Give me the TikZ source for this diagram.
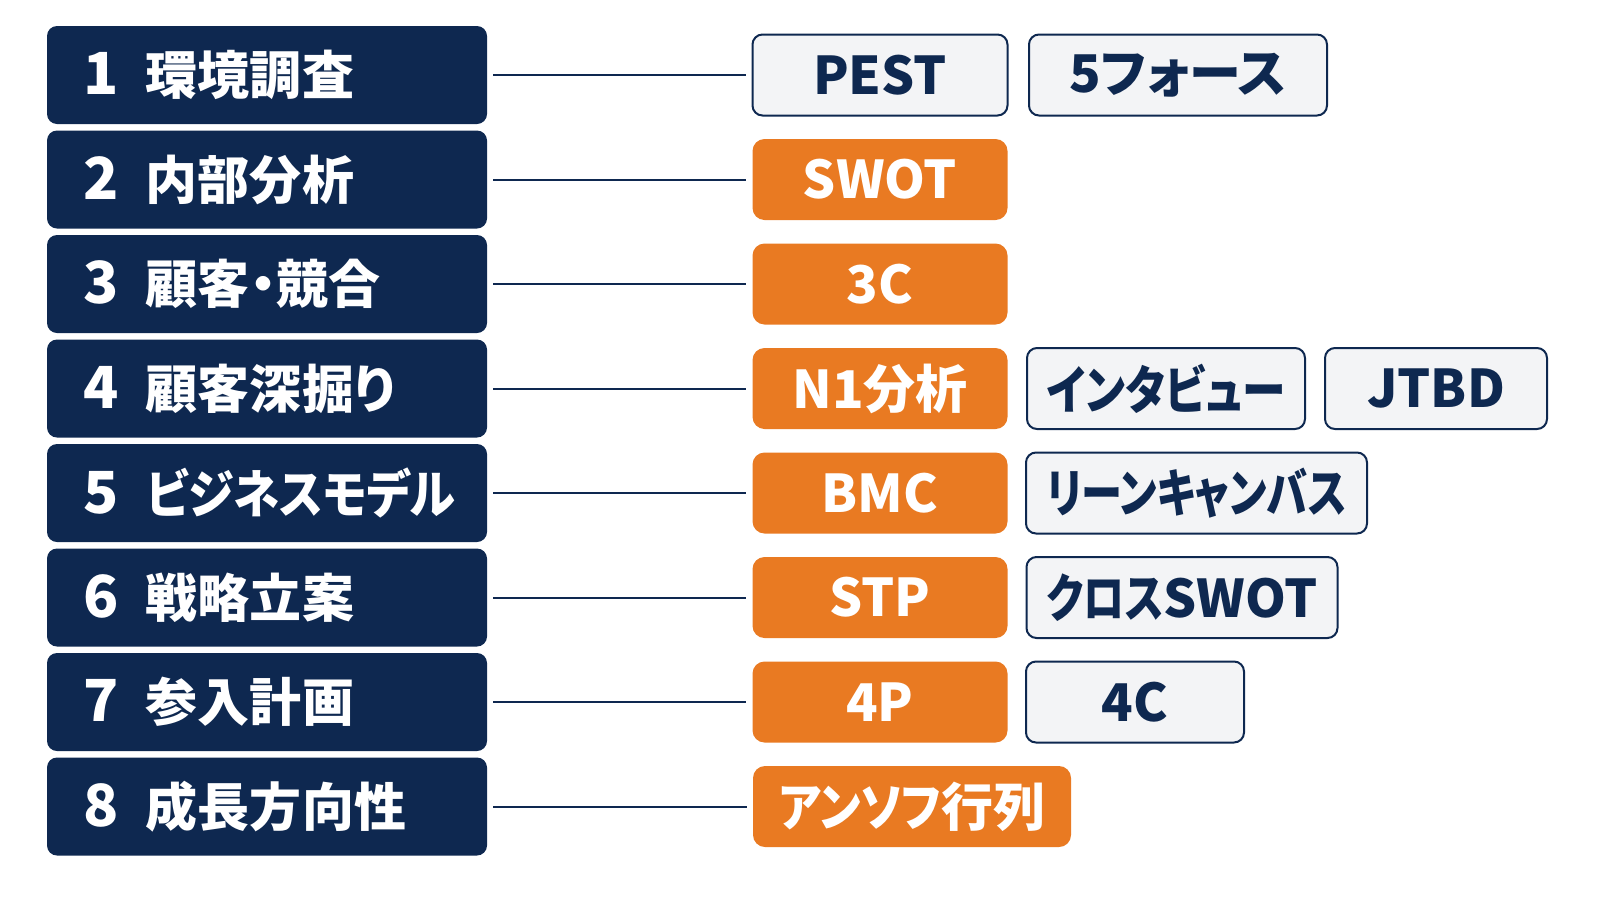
\documentclass[tikz,border=0pt]{standalone}
\usepackage{fontspec}
\setmainfont{Noto Sans CJK JP}[RawFeature=+palt]
\definecolor{navy}{HTML}{0E2850}
\definecolor{tangerine}{HTML}{E97A22}
\definecolor{paper}{HTML}{F3F4F6}
\newcommand{\stagenum}[1]{\makebox[31.5pt][l]{\fontsize{29}{29}\selectfont #1}}
\newcommand{\condense}[2]{{\addfontfeature{FakeStretch=#1}#2}}

\begin{document}
\begin{tikzpicture}[x=0.5pt,y=-0.5pt,
		stage/.style={fill=navy, rounded corners=5pt, text=white, text width=184pt, align=left,
			inner xsep=18pt, inner ysep=0pt, minimum height=49pt, font=\bfseries\fontsize{26}{26}\selectfont},
		tool/.style={fill=tangerine, rounded corners=6pt, text=white, inner sep=0pt,
			minimum height=40.5pt, font=\bfseries\fontsize{26}{26}\selectfont},
		extra/.style={draw=navy, line width=1pt, fill=paper, rounded corners=5pt, text=navy, inner sep=0pt,
			minimum height=40.5pt, font=\bfseries\fontsize{26}{26}\selectfont},
		link/.style={navy, line width=1pt, shorten <=3pt, shorten >=3pt}]
			\useasboundingbox (0,0) rectangle (1600,900);
			
			\node[stage] (S1) at (267,75) {\stagenum{1}環境調査};
			\node[stage] (S2) at (267,179.5) {\stagenum{2}内部分析};
			\node[stage] (S3) at (267,284) {\stagenum{3}顧客・競合};
			\node[stage] (S4) at (267,388.5) {\stagenum{4}顧客深掘り};
			\node[stage] (S5) at (267,493) {\stagenum{5}\condense{0.89}{ビジネスモデル}};
			\node[stage] (S6) at (267,597.5) {\stagenum{6}戦略立案};
			\node[stage] (S7) at (267,702) {\stagenum{7}参入計画};
			\node[stage] (S8) at (267,806.5) {\stagenum{8}成長方向性};
			
			\node[extra, minimum width=127.5pt] (T1) at (880,75) {PEST};
			\node[tool, minimum width=127.5pt] (T2) at (880,179.5) {SWOT};
			\node[tool, minimum width=127.5pt] (T3) at (880,284) {3C};
			\node[tool, minimum width=127.5pt] (T4) at (880,388.5) {N1分析};
			\node[tool, minimum width=127.5pt] (T5) at (880,493) {BMC};
			\node[tool, minimum width=127.5pt] (T6) at (880,597.5) {STP};
			\node[tool, minimum width=127.5pt] (T7) at (880,702) {4P};
			\node[tool, minimum width=159pt] (T8) at (912,806.5) {\condense{0.87}{アンソフ}行列};
			
			\node[extra, minimum width=149pt] (X1) at (1178,75) {5フォース};
			\node[extra, minimum width=139pt] (X4a) at (1166,388.5) {\condense{0.84}{インタビュー}};
			\node[extra, minimum width=111pt] (X4b) at (1436,388.5) {JTBD};
			\node[extra, minimum width=170.5pt] (X5) at (1196.5,493) {\condense{0.79}{リーンキャンバス}};
			\node[extra, minimum width=155.5pt] (X6) at (1182,597.5) {\condense{0.79}{クロス}SWOT};
			\node[extra, minimum width=109pt] (X7) at (1135,702) {4C};
			
			\path[link] (S1) edge (T1);
			\path[link] (S2) edge (T2);
			\path[link] (S3) edge (T3);
			\path[link] (S4) edge (T4);
			\path[link] (S5) edge (T5);
			\path[link] (S6) edge (T6);
			\path[link] (S7) edge (T7);
			\path[link] (S8) edge (T8);
		\end{tikzpicture}
\end{document}
